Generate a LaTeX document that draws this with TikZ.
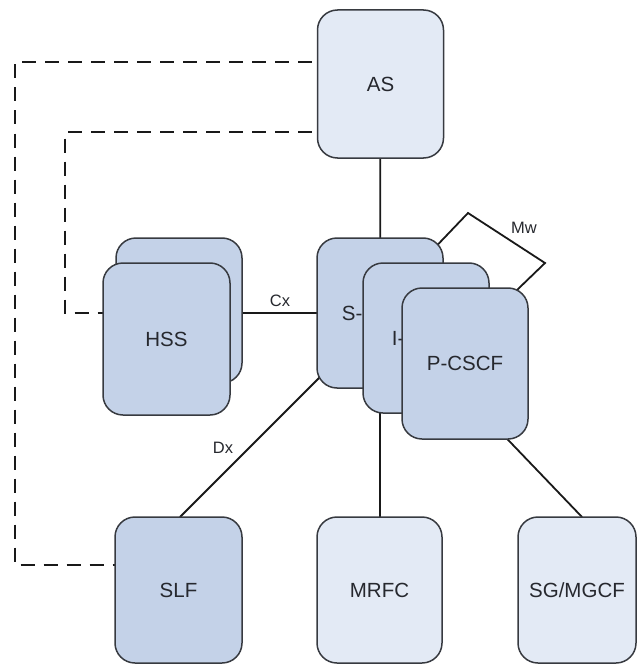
\documentclass[tikz,border=0pt]{standalone}
\usepackage{fontspec}
\setmainfont{Liberation Sans}
\definecolor{lightfill}{RGB}{227,234,245}
\definecolor{darkfill}{RGB}{196,210,232}
\definecolor{boxline}{RGB}{55,58,64}
\definecolor{linkc}{RGB}{25,25,25}
\definecolor{txt}{RGB}{38,40,46}
\begin{document}
\begin{tikzpicture}[x=1pt,y=-1pt,
  box/.style={draw=boxline, line width=1.5pt, rounded corners=20pt,
    minimum width=126pt, minimum height=150pt, inner sep=0pt,
    font=\fontsize{20.5}{24}\selectfont, text=txt},
  lightbox/.style={box, fill=lightfill},
  darkbox/.style={box, fill=darkfill},
  link/.style={draw=linkc, line width=1.8pt},
  dashlink/.style={draw=linkc, line width=2pt, dash pattern=on 14pt off 9pt},
  lbl/.style={font=\fontsize{16.5}{20}\selectfont, text=txt, inner sep=0pt}]

\useasboundingbox (0,0) rectangle (637,666);

% node centres (boxes are drawn later, on top of the links)
\coordinate (asc) at (380.5,84);
\coordinate (hssbc) at (179,310.5);
\coordinate (hssfc) at (166.5,339);
\coordinate (sc) at (380,313);
\coordinate (ic) at (426,338);
\coordinate (pc) at (465,363.5);
\coordinate (slfc) at (178.5,590);
\coordinate (mrfcc) at (379.5,590);
\coordinate (sgc) at (577,590);

% hidden link ends and bends
\coordinate (dxs) at (330,367);
\coordinate (dxe) at (180,517);
\coordinate (mw0) at (425,258);
\coordinate (mw1) at (468,213);
\coordinate (mw2) at (545,263);
\coordinate (mw3) at (517,290);
\coordinate (sgs) at (490,421);
\coordinate (sge) at (582,517);
\coordinate (d1a) at (15,62);
\coordinate (d1b) at (15,565);
\coordinate (d2a) at (65,132);
\coordinate (d2b) at (65,313);

% dashed links from AS
\draw[dashlink] (asc |- d1a) -- (d1a) -- (d1b) -- (slfc |- d1b);
\draw[dashlink] (asc |- d2a) -- (d2a) -- (d2b) -- (hssfc |- d2b);

% solid links
\draw[link] (asc) -- (sc);
\draw[link] (hssbc |- sc) -- (sc);
\draw[link] (dxs) -- (dxe);
\draw[link] (sc) -- (sc |- mrfcc);
\draw[link] (mw0) -- (mw1) -- (mw2) -- (mw3);
\draw[link] (sgs) -- (sge);

% boxes
\node[lightbox, minimum height=148pt] (as) at (asc) {AS};
\node[darkbox, minimum height=145pt] (hssb) at (hssbc) {};
\node[darkbox, minimum width=127pt, minimum height=152pt] (hssf) at (hssfc) {HSS};
\node[darkbox] (scscf) at (sc) {S-CSCF};
\node[darkbox] (icscf) at (ic) {I-CSCF};
\node[darkbox, minimum height=151pt] (pcscf) at (pc) {P-CSCF};
\node[darkbox, minimum width=127pt, minimum height=146pt] (slf) at (slfc) {SLF};
\node[lightbox, minimum width=125pt, minimum height=146pt] (mrfc) at (mrfcc) {MRFC};
\node[lightbox, minimum width=118pt, minimum height=146pt] (sg) at (sgc) {SG/MGCF};

% interface labels
\node[lbl] (cx) at (280,301) {Cx};
\node[lbl] (dx) at (223,448) {Dx};
\node[lbl] (mw) at (524,228) {Mw};
\end{tikzpicture}
\end{document}
